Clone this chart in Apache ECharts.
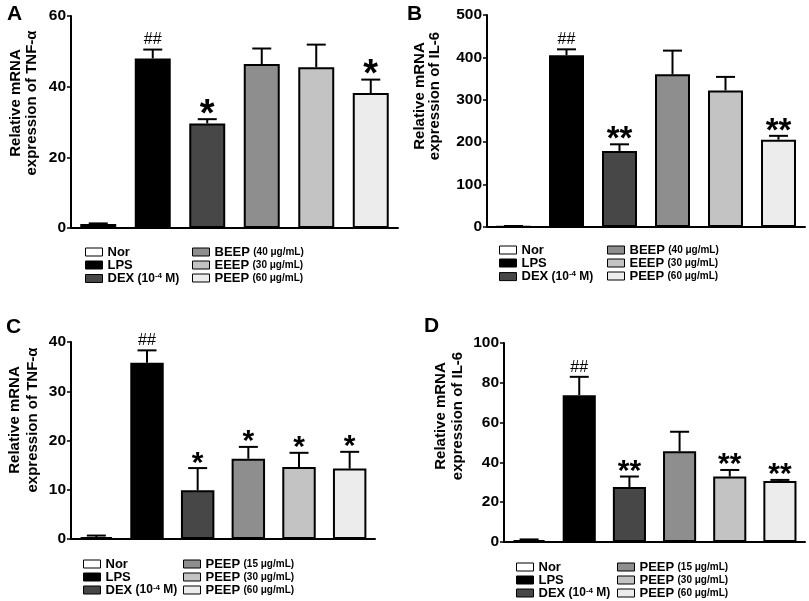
<!DOCTYPE html>
<html><head><meta charset="utf-8">
<script src="https://cdn.jsdelivr.net/npm/echarts@6/dist/echarts.min.js"></script>
<style>html,body{margin:0;padding:0;background:#fff}#c{width:809px;height:601px}</style>
</head><body><div id="c"></div>
<script>
// ---- data ----
const categoriesAB = ['Nor', 'LPS', 'DEX', 'BEEP', 'EEEP', 'PEEP'];
const categoriesCD = ['Nor', 'LPS', 'DEX', 'PEEP15', 'PEEP30', 'PEEP60'];
const legendNamesAB = ['Nor', 'LPS', 'DEX (10-4 M)', 'BEEP (40 μg/mL)', 'EEEP (30 μg/mL)', 'PEEP (60 μg/mL)'];
const legendNamesCD = ['Nor', 'LPS', 'DEX (10-4 M)', 'PEEP (15 μg/mL)', 'PEEP (30 μg/mL)', 'PEEP (60 μg/mL)'];

const tnfA = [1.1, 48.0, 29.6, 46.4, 45.5, 38.2];
const tnfAErr = [0.2, 2.5, 1.2, 4.4, 6.4, 3.8];
const tnfAMarks = ['', '##', '*', '', '', '*'];

const il6B = [1.5, 405, 179, 360, 322, 206];
const il6BErr = [0.8, 14, 16, 56, 32, 9];
const il6BMarks = ['', '##', '**', '', '', '**'];

const tnfC = [0.4, 35.8, 9.9, 16.3, 14.6, 14.3];
const tnfCErr = [0.3, 2.5, 4.5, 2.4, 2.9, 3.4];
const tnfCMarks = ['', '##', '*', '*', '*', '*'];

const il6D = [1.0, 73.8, 27.6, 45.6, 32.9, 30.7];
const il6DErr = [0.3, 9.2, 5.3, 9.8, 3.3, 0.5];
const il6DMarks = ['', '##', '**', '', '**', '**'];

const yMax = [60, 500, 40, 100];
const yInterval = [20, 100, 10, 20];
const yTitles = ['Relative mRNA\nexpression of TNF-α', 'Relative mRNA\nexpression of IL-6',
                 'Relative mRNA\nexpression of TNF-α', 'Relative mRNA\nexpression of IL-6'];
const panelLetters = ['A', 'B', 'C', 'D'];

// ---- styles / layout ----
const FONT = 'Liberation Sans, Arial, sans-serif';
const colors = ['#ffffff', '#000000', '#474747', '#8e8e8e', '#c3c3c3', '#ececec'];
const grids = [
  {left: 71, top: 16, width: 327, height: 212},
  {left: 487, top: 15, width: 318, height: 212},
  {left: 71, top: 342, width: 304, height: 197},
  {left: 504, top: 343, width: 301, height: 199}
];
const starSizes = [38, 33, 30, 30];
const titlePos = [[24, 103, 16], [427, 96, 15], [24, 420, 18], [449, 416, 17]];
const letterPos = [[7, 4], [407, 4], [6, 317], [424, 316]];
const legendPos = [
  {l: [85, 245.5], r: [192, 245.5], lh: 14},
  {l: [499, 243.5], r: [607, 243.5], lh: 14.2},
  {l: [83, 557.5], r: [183, 557.5], lh: 12.7},
  {l: [516, 560.5], r: [617, 560.5], lh: 13}
];

const panels = [
  {cats: categoriesAB, names: legendNamesAB, vals: tnfA, errs: tnfAErr, marks: tnfAMarks},
  {cats: categoriesAB, names: legendNamesAB, vals: il6B, errs: il6BErr, marks: il6BMarks},
  {cats: categoriesCD, names: legendNamesCD, vals: tnfC, errs: tnfCErr, marks: tnfCMarks},
  {cats: categoriesCD, names: legendNamesCD, vals: il6D, errs: il6DErr, marks: il6DMarks}
];

function makeErrRender(marks, fs) {
  return function (params, api) {
    const i = api.value(0), v = api.value(1), e = api.value(2);
    const base = api.coord([i, v]);
    const top = api.coord([i, v + e]);
    const x = base[0];
    const children = [
      {type: 'line', shape: {x1: x, y1: base[1], x2: x, y2: top[1]}, style: {stroke: '#000', lineWidth: 2}},
      {type: 'line', shape: {x1: x - 9.5, y1: top[1], x2: x + 9.5, y2: top[1]}, style: {stroke: '#000', lineWidth: 2}}
    ];
    const m = marks[i];
    if (m === '##') {
      children.push({type: 'text', x: x, y: top[1] - 9.5, style: {text: m, fontSize: 16, fontFamily: FONT, fill: '#000', align: 'center', verticalAlign: 'middle'}});
    } else if (m) {
      children.push({type: 'text', x: x, y: top[1] - 9 + 0.14 * fs, style: {text: m, fontSize: fs, fontWeight: 'bold', fontFamily: FONT, fill: '#000', align: 'center', verticalAlign: 'middle'}});
    }
    return {type: 'group', children: children};
  };
}

function legendFormatter(name) {
  if (name.indexOf('DEX') === 0) return '{m|DEX} {p|(10}{sup|-4}{p| M)}';
  const k = name.indexOf(' (');
  if (k > 0) return '{m|' + name.slice(0, k) + '} {s|' + name.slice(k + 1) + '}';
  return '{m|' + name + '}';
}

const option = {
  backgroundColor: '#fff',
  animation: false,
  textStyle: {fontFamily: FONT},
  grid: grids.map(g => Object.assign({containLabel: false}, g)),
  xAxis: panels.map((p, g) => ({
    type: 'category', gridIndex: g, data: p.cats,
    axisLine: {lineStyle: {color: '#000', width: 2}},
    axisTick: {alignWithLabel: true, length: 5, lineStyle: {color: '#000', width: 1.5}},
    axisLabel: {show: false}, splitLine: {show: false}
  })),
  yAxis: panels.map((p, g) => ({
    type: 'value', gridIndex: g, min: 0, max: yMax[g], interval: yInterval[g],
    axisLine: {show: true, lineStyle: {color: '#000', width: 2}},
    axisTick: {show: true, length: 4, lineStyle: {color: '#000', width: 1.5}},
    axisLabel: {color: '#000', fontSize: 15.5, fontWeight: 'bold', fontFamily: FONT, margin: 5},
    splitLine: {show: false}
  })),
  legend: [],
  series: [],
  graphic: []
};

panels.forEach((p, g) => {
  p.names.forEach((nm, i) => {
    option.series.push({
      type: 'bar', name: nm, xAxisIndex: g, yAxisIndex: g, stack: 'st' + g,
      barWidth: '66%',
      data: p.vals.map((v, j) => (j === i ? v : '-')),
      itemStyle: {color: colors[i], borderColor: '#000', borderWidth: 2},
      z: 2
    });
  });
  option.series.push({
    type: 'custom', xAxisIndex: g, yAxisIndex: g, z: 5,
    renderItem: makeErrRender(p.marks, starSizes[g]),
    data: p.vals.map((v, i) => [i, v, p.errs[i]])
  });
  const lp = legendPos[g];
  [[lp.l, p.names.slice(0, 3)], [lp.r, p.names.slice(3)]].forEach(([pos, data]) => {
    option.legend.push({
      orient: 'vertical', left: pos[0], top: pos[1], padding: 0, itemGap: 0,
      itemWidth: 17, itemHeight: 8, icon: 'rect', selectedMode: false,
      data: data, formatter: legendFormatter,
      itemStyle: {borderColor: '#000', borderWidth: 1},
      textStyle: {
        color: '#000', fontFamily: FONT,
        rich: {
          m: {fontSize: 13, fontWeight: 'bold', lineHeight: lp.lh, fontFamily: FONT, color: '#000'},
          s: {fontSize: 10, fontWeight: 'bold', fontFamily: FONT, color: '#000'},
          p: {fontSize: 12, fontWeight: 'bold', fontFamily: FONT, color: '#000'},
          sup: {fontSize: 8, fontWeight: 'bold', fontFamily: FONT, color: '#000', verticalAlign: 'top'}
        }
      }
    });
  });
  const tp = titlePos[g];
  option.graphic.push({
    type: 'text', x: tp[0], y: tp[1], rotation: Math.PI / 2,
    style: {text: yTitles[g], fontSize: 15, fontWeight: 'bold', fontFamily: FONT, lineHeight: tp[2], fill: '#000', align: 'center', verticalAlign: 'middle'}
  });
  option.graphic.push({
    type: 'text', x: letterPos[g][0], y: letterPos[g][1],
    style: {text: panelLetters[g], fontSize: 21, fontWeight: 'bold', fontFamily: FONT, fill: '#000', align: 'left', verticalAlign: 'top'}
  });
});

const chart = echarts.init(document.getElementById('c'), null, {renderer: 'canvas'});
chart.setOption(option);
</script>
</body></html>
